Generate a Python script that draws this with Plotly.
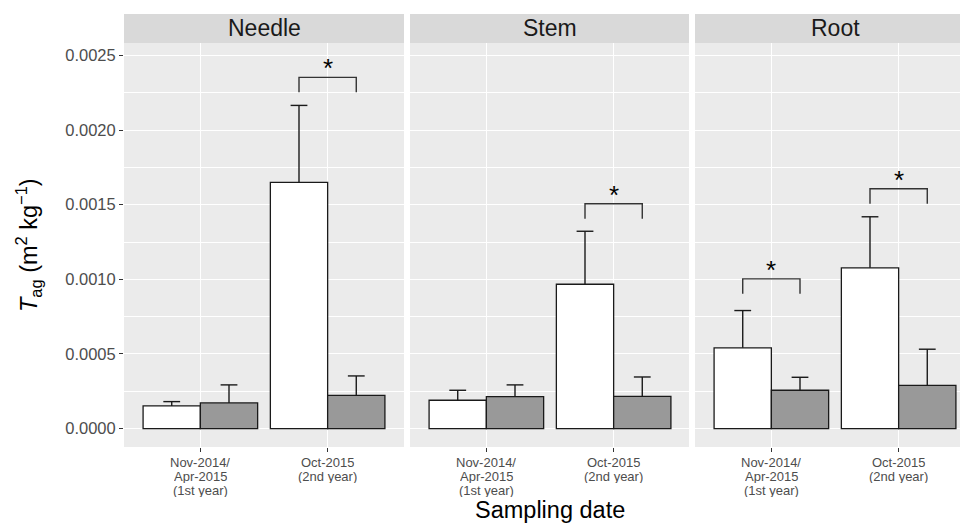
import plotly.graph_objects as go

# ---------------- data ----------------
tissues = ["Needle", "Stem", "Root"]
date_labels = ["Nov-2014/\nApr-2015\n(1st year)", "Oct-2015\n(2nd year)"]
date_pos = [0, 1]

needle_white = [0.000152, 0.001649]
needle_white_se = [0.000029, 0.000516]
needle_grey = [0.000172, 0.000223]
needle_grey_se = [0.000121, 0.000130]

stem_white = [0.000190, 0.000967]
stem_white_se = [0.000067, 0.000355]
stem_grey = [0.000214, 0.000216]
stem_grey_se = [0.000079, 0.000130]

root_white = [0.000541, 0.001077]
root_white_se = [0.000250, 0.000342]
root_grey = [0.000257, 0.000290]
root_grey_se = [0.000087, 0.000242]

sig_panel = ["Needle", "Stem", "Root", "Root"]
sig_date = [1, 1, 0, 1]
sig_height = [0.002353, 0.001506, 0.001003, 0.001607]

y_ticks = [0.0, 0.0005, 0.0010, 0.0015, 0.0020, 0.0025]

# ---------------- layout constants ----------------
W, H = 960, 525
FONT = "Liberation Sans, Arial, sans-serif"
panel_px = [(124, 404), (410, 689), (695, 960)]
panel_full_w = 280
panel_top, panel_bot = 43, 447
strip_top = 14
y_range = [-0.000123, 0.002583]
bar_half = 0.225
leg = 0.0001

white_means = [needle_white, stem_white, root_white]
white_ses = [needle_white_se, stem_white_se, root_white_se]
grey_means = [needle_grey, stem_grey, root_grey]
grey_ses = [needle_grey_se, stem_grey_se, root_grey_se]

fig = go.Figure()
axis_ids = ["", "2", "3"]
outline = "#1a1a1a"

for i, t in enumerate(tissues):
    ax = axis_ids[i]
    xa, ya = "x" + ax, "y" + ax
    for means, ses, col, side in [(white_means[i], white_ses[i], "white", -1),
                                  (grey_means[i], grey_ses[i], "#999999", 1)]:
        fig.add_trace(go.Bar(
            x=date_pos, y=means, xaxis=xa, yaxis=ya, showlegend=False,
            marker=dict(color=col, line=dict(color=outline, width=1.3)),
            error_y=dict(type="data", array=ses, arrayminus=[0] * len(ses),
                         symmetric=False, color=outline, thickness=1.4, width=0),
        ))
        # error-bar caps (upper only)
        fig.add_trace(go.Scatter(
            x=[d + side * bar_half for d in date_pos],
            y=[m + s for m, s in zip(means, ses)],
            mode="markers", xaxis=xa, yaxis=ya, showlegend=False, hoverinfo="skip",
            marker=dict(symbol="line-ew", size=12,
                        line=dict(color=outline, width=1.4))))

# significance brackets
for p, d, h in zip(sig_panel, sig_date, sig_height):
    i = tissues.index(p)
    ax = axis_ids[i]
    fig.add_trace(go.Scatter(
        x=[d - bar_half, d - bar_half, d + bar_half, d + bar_half],
        y=[h - leg, h, h, h - leg], mode="lines",
        line=dict(color="#333333", width=1.4),
        xaxis="x" + ax, yaxis="y" + ax, showlegend=False, hoverinfo="skip"))
    fig.add_annotation(x=d, y=h, xref="x" + ax, yref="y" + ax, text="*",
                       showarrow=False, yanchor="bottom", yshift=-8,
                       font=dict(family=FONT, size=26, color="black"))

def py(px):
    return 1 - px / H

layout = dict(
    width=W, height=H, margin=dict(l=0, r=0, t=0, b=0),
    paper_bgcolor="white", plot_bgcolor="#ebebeb",
    barmode="group", bargap=0.1, bargroupgap=0,
    font=dict(family=FONT),
)
shapes = []
annotations = []
for i, t in enumerate(tissues):
    ax = axis_ids[i]
    x0, x1 = panel_px[i]
    width_px = x1 - x0
    xr = [-0.6, -0.6 + 2.2 * width_px / panel_full_w]
    layout["xaxis" + ax] = dict(
        domain=[x0 / W, x1 / W], range=xr, anchor="y" + ax,
        tickvals=date_pos, showticklabels=False, ticks="outside", ticklen=4,
        tickwidth=1.1, tickcolor="#333333", showgrid=True, gridcolor="white",
        gridwidth=1.3, zeroline=False, showline=False, fixedrange=True)
    layout["yaxis" + ax] = dict(
        domain=[py(panel_bot), py(panel_top)], range=y_range, anchor="x" + ax,
        tickvals=y_ticks, tickformat=".4f", showticklabels=(i == 0),
        ticks="outside" if i == 0 else "", ticklen=4, tickwidth=1.1,
        tickcolor="#333333", tickfont=dict(family=FONT, size=16.5, color="#4d4d4d"),
        showgrid=True, gridcolor="white", gridwidth=1.3, zeroline=False,
        minor=dict(dtick=0.00025, tick0=0, showgrid=True, gridcolor="white",
                   gridwidth=0.6),
        fixedrange=True)
    shapes.append(dict(type="rect", xref="paper", yref="paper",
                       x0=x0 / W, x1=x1 / W, y0=py(panel_top), y1=py(strip_top),
                       fillcolor="#d9d9d9", line=dict(width=0)))
    annotations.append(dict(x=0.5, xref="x" + ax, y=py((strip_top + panel_top) / 2),
                            yref="paper", text=t, showarrow=False,
                            xanchor="center", yanchor="middle",
                            font=dict(family=FONT, size=23, color="#1a1a1a")))
    for pos, lab in zip(date_pos, date_labels):
        for k, line in enumerate(lab.split("\n")):
            annotations.append(dict(x=pos, xref="x" + ax, y=py(461.5 + 14 * k),
                                    yref="paper", text=line, showarrow=False,
                                    xanchor="center", yanchor="middle", height=14,
                                    font=dict(family=FONT, size=13, color="#4d4d4d")))

annotations.append(dict(x=28 / W, y=py(245), xref="paper", yref="paper",
                        text="<i>T</i><sub>ag</sub> (m<sup>2</sup> kg<sup>\u22121</sup>)",
                        textangle=-90, showarrow=False, xanchor="center", yanchor="middle",
                        font=dict(family=FONT, size=23.5, color="black")))
annotations.append(dict(x=0.5, xref="x2", y=py(510), yref="paper",
                        text="Sampling date", showarrow=False,
                        xanchor="center", yanchor="middle",
                        font=dict(family=FONT, size=23.5, color="black")))

layout["shapes"] = shapes
fig.update_layout(**layout)
for a in annotations:
    fig.add_annotation(**a)

fig.write_html("out.html", config={"displayModeBar": False},
               post_script="document.body.style.margin='0';document.body.style.overflow='hidden';")
